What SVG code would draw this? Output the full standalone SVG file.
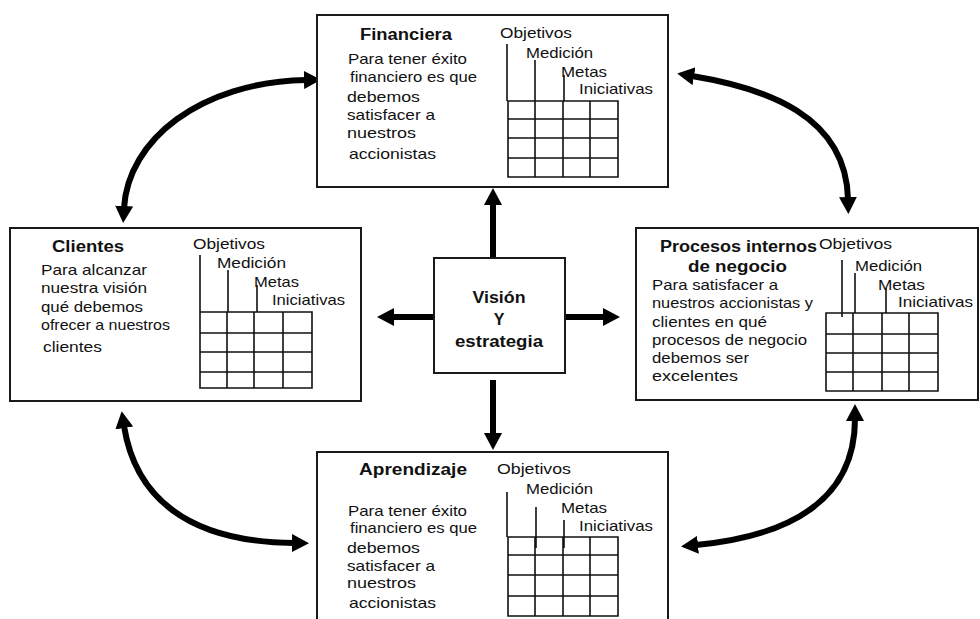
<svg xmlns="http://www.w3.org/2000/svg" width="980" height="619" viewBox="0 0 980 619">
<style>
.box{fill:#fff;stroke:#1a1a1a;stroke-width:2}
.grid{fill:none;stroke:#111;stroke-width:1.6}
.t{font-family:"Liberation Sans",Arial,sans-serif;font-size:15px;fill:#111}
.b{font-family:"Liberation Sans",Arial,sans-serif;font-size:16px;font-weight:bold;fill:#111}
.arr{fill:none;stroke:#000;stroke-width:6}
</style>
<defs>
<marker id="ah" markerUnits="userSpaceOnUse" markerWidth="17" markerHeight="18" refX="2" refY="9" orient="auto-start-reverse" viewBox="0 0 17 18">
<path d="M0,0 L17,9 L0,18 z" fill="#000"/>
</marker>
</defs>

<g id="connectors">
<line class="arr" x1="493" y1="258" x2="493" y2="203" marker-end="url(#ah)"/>
<line class="arr" x1="434" y1="317" x2="392" y2="317" marker-end="url(#ah)"/>
<line class="arr" x1="565" y1="317" x2="605" y2="317" marker-end="url(#ah)"/>
<line class="arr" x1="493" y1="380" x2="493" y2="435" marker-end="url(#ah)"/>
<path class="arr" d="M124 208 C128 140 200 82 306 80" marker-start="url(#ah)" marker-end="url(#ah)"/>
<path class="arr" d="M692 76 C765 88 846 115 848 199" marker-start="url(#ah)" marker-end="url(#ah)"/>
<path class="arr" d="M124 426 C135 495 185 542 294 543" marker-start="url(#ah)" marker-end="url(#ah)"/>
<path class="arr" d="M696 545 C790 536 855 500 855 419" marker-start="url(#ah)" marker-end="url(#ah)"/>
</g>

<g id="financiera">
<rect class="box" x="317" y="15" width="351" height="172"/>
<text class="b" x="360" y="40" textLength="92" lengthAdjust="spacingAndGlyphs">Financiera</text>
<text class="t" x="348" y="64" textLength="119" lengthAdjust="spacingAndGlyphs">Para tener éxito</text>
<text class="t" x="350" y="82" textLength="127" lengthAdjust="spacingAndGlyphs">financiero es que</text>
<text class="t" x="347" y="102" textLength="73" lengthAdjust="spacingAndGlyphs">debemos</text>
<text class="t" x="347" y="120" textLength="88" lengthAdjust="spacingAndGlyphs">satisfacer a</text>
<text class="t" x="347" y="138" textLength="69" lengthAdjust="spacingAndGlyphs">nuestros</text>
<text class="t" x="349" y="159" textLength="87" lengthAdjust="spacingAndGlyphs">accionistas</text>
<text class="t" x="500" y="38" textLength="72" lengthAdjust="spacingAndGlyphs">Objetivos</text>
<text class="t" x="526" y="58" textLength="67" lengthAdjust="spacingAndGlyphs">Medición</text>
<text class="t" x="561" y="77" textLength="46" lengthAdjust="spacingAndGlyphs">Metas</text>
<text class="t" x="579" y="94" textLength="74" lengthAdjust="spacingAndGlyphs">Iniciativas</text>
<path class="grid" d="M508 101H618V177H508Z M535 101V177 M563 101V177 M590 101V177 M508 119H618 M508 138H618 M508 158H618 M507 44V101 M535 60V101 M564 75V101"/>
</g>

<g id="clientes">
<rect class="box" x="10" y="228" width="351" height="173"/>
<text class="b" x="52" y="252" textLength="72" lengthAdjust="spacingAndGlyphs">Clientes</text>
<text class="t" x="41" y="275" textLength="106" lengthAdjust="spacingAndGlyphs">Para alcanzar</text>
<text class="t" x="41" y="293" textLength="106" lengthAdjust="spacingAndGlyphs">nuestra visión</text>
<text class="t" x="41" y="312" textLength="102" lengthAdjust="spacingAndGlyphs">qué debemos</text>
<text class="t" x="41" y="330" textLength="129" lengthAdjust="spacingAndGlyphs">ofrecer a nuestros</text>
<text class="t" x="43" y="352" textLength="59" lengthAdjust="spacingAndGlyphs">clientes</text>
<text class="t" x="193" y="249" textLength="72" lengthAdjust="spacingAndGlyphs">Objetivos</text>
<text class="t" x="217" y="268" textLength="69" lengthAdjust="spacingAndGlyphs">Medición</text>
<text class="t" x="254" y="287" textLength="45" lengthAdjust="spacingAndGlyphs">Metas</text>
<text class="t" x="272" y="305" textLength="73" lengthAdjust="spacingAndGlyphs">Iniciativas</text>
<path class="grid" d="M200 312H312V388H200Z M227 312V388 M254 312V388 M283 312V388 M200 333H312 M200 352H312 M200 372H312 M200 255V312 M228 270V312 M257 285V312"/>
</g>

<g id="procesos">
<rect class="box" x="636" y="228" width="342" height="172"/>
<text class="b" x="660" y="252" textLength="157" lengthAdjust="spacingAndGlyphs">Procesos internos</text>
<text class="b" x="688" y="272" textLength="99" lengthAdjust="spacingAndGlyphs">de negocio</text>
<text class="t" x="652" y="290" textLength="126" lengthAdjust="spacingAndGlyphs">Para satisfacer a</text>
<text class="t" x="652" y="308" textLength="161" lengthAdjust="spacingAndGlyphs">nuestros accionistas y</text>
<text class="t" x="652" y="327" textLength="115" lengthAdjust="spacingAndGlyphs">clientes en qué</text>
<text class="t" x="652" y="345" textLength="155" lengthAdjust="spacingAndGlyphs">procesos de negocio</text>
<text class="t" x="652" y="363" textLength="97" lengthAdjust="spacingAndGlyphs">debemos ser</text>
<text class="t" x="652" y="381" textLength="86" lengthAdjust="spacingAndGlyphs">excelentes</text>
<text class="t" x="819" y="249" textLength="73" lengthAdjust="spacingAndGlyphs">Objetivos</text>
<text class="t" x="855" y="271" textLength="67" lengthAdjust="spacingAndGlyphs">Medición</text>
<text class="t" x="878" y="290" textLength="47" lengthAdjust="spacingAndGlyphs">Metas</text>
<text class="t" x="898" y="307" textLength="75" lengthAdjust="spacingAndGlyphs">Iniciativas</text>
<path class="grid" d="M826 313H938V391H826Z M853 313V391 M882 313V391 M909 313V391 M826 334H938 M826 353H938 M826 372H938 M842 260V317 M855 273V313 M886 288V313"/>
</g>

<g id="aprendizaje">
<rect class="box" x="317" y="452" width="351" height="200"/>
<text class="b" x="359" y="475" textLength="108" lengthAdjust="spacingAndGlyphs">Aprendizaje</text>
<text class="t" x="348" y="516" textLength="119" lengthAdjust="spacingAndGlyphs">Para tener éxito</text>
<text class="t" x="350" y="533" textLength="127" lengthAdjust="spacingAndGlyphs">financiero es que</text>
<text class="t" x="347" y="553" textLength="73" lengthAdjust="spacingAndGlyphs">debemos</text>
<text class="t" x="347" y="571" textLength="88" lengthAdjust="spacingAndGlyphs">satisfacer a</text>
<text class="t" x="347" y="588" textLength="69" lengthAdjust="spacingAndGlyphs">nuestros</text>
<text class="t" x="349" y="608" textLength="87" lengthAdjust="spacingAndGlyphs">accionistas</text>
<text class="t" x="497" y="474" textLength="74" lengthAdjust="spacingAndGlyphs">Objetivos</text>
<text class="t" x="526" y="494" textLength="67" lengthAdjust="spacingAndGlyphs">Medición</text>
<text class="t" x="561" y="513" textLength="46" lengthAdjust="spacingAndGlyphs">Metas</text>
<text class="t" x="579" y="531" textLength="74" lengthAdjust="spacingAndGlyphs">Iniciativas</text>
<path class="grid" d="M508 537H618V616H508Z M535 537V616 M563 537V616 M590 537V616 M508 555H618 M508 575H618 M508 596H618 M507 492V537 M536 507V548 M564 520V548"/>
</g>

<g id="vision">
<rect class="box" x="434" y="258" width="131" height="115"/>
<text class="b" x="499" y="303" text-anchor="middle" textLength="53" lengthAdjust="spacingAndGlyphs">Visión</text>
<text class="b" x="499" y="325" text-anchor="middle">Y</text>
<text class="b" x="499" y="347" text-anchor="middle" textLength="88" lengthAdjust="spacingAndGlyphs">estrategia</text>
</g>
</svg>
